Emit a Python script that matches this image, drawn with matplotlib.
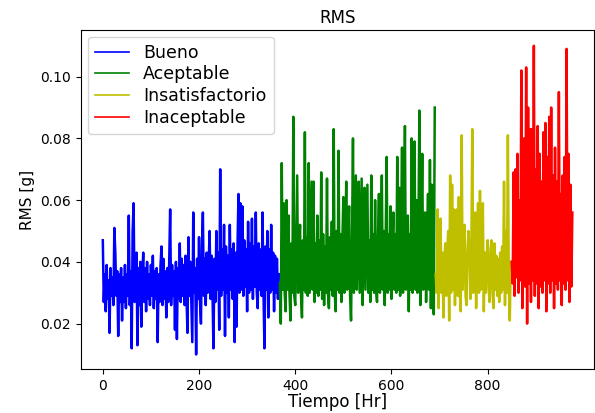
import numpy as np
import matplotlib
matplotlib.use('Agg')
import matplotlib.pyplot as plt
from matplotlib.lines import Line2D

# muestreo cada 2 horas
dt = 2

bueno = [
    0.047, 0.027, 0.036, 0.024, 0.039, 0.028, 0.034, 0.017, 0.038, 0.029,
    0.035, 0.026, 0.051, 0.043, 0.029, 0.037, 0.016, 0.036, 0.027, 0.038,
    0.021, 0.035, 0.027, 0.039, 0.025, 0.036, 0.029, 0.055, 0.026, 0.037,
    0.012, 0.050, 0.059, 0.027, 0.036, 0.043, 0.013, 0.038, 0.026, 0.040,
    0.019, 0.035, 0.043, 0.027, 0.038, 0.024, 0.040, 0.028, 0.036, 0.026,
    0.039, 0.029, 0.042, 0.025, 0.037, 0.028, 0.038, 0.014, 0.036, 0.027,
    0.039, 0.045, 0.026, 0.041, 0.028, 0.037, 0.022, 0.038, 0.027, 0.040,
    0.057, 0.026, 0.039, 0.029, 0.037, 0.018, 0.040, 0.015, 0.038, 0.028,
    0.046, 0.027, 0.041, 0.029, 0.039, 0.026, 0.042, 0.028, 0.017, 0.048,
    0.029, 0.040, 0.027, 0.014, 0.056, 0.030, 0.038, 0.010, 0.041, 0.028,
    0.048, 0.027, 0.020, 0.044, 0.056, 0.029, 0.041, 0.026, 0.043, 0.030,
    0.039, 0.050, 0.028, 0.042, 0.030, 0.012, 0.041, 0.027, 0.050, 0.031,
    0.043, 0.018, 0.070, 0.029, 0.044, 0.031, 0.052, 0.016, 0.045, 0.030,
    0.042, 0.022, 0.052, 0.031, 0.044, 0.028, 0.046, 0.014, 0.043, 0.019,
    0.045, 0.062, 0.030, 0.059, 0.031, 0.058, 0.029, 0.047, 0.032, 0.044,
    0.024, 0.053, 0.030, 0.046, 0.031, 0.054, 0.028, 0.045, 0.032, 0.056,
    0.030, 0.025, 0.046, 0.031, 0.044, 0.029, 0.056, 0.030, 0.012, 0.045,
    0.031, 0.050, 0.022, 0.044, 0.030, 0.052, 0.031, 0.043, 0.024, 0.042,
    0.030, 0.041, 0.028, 0.036,
]

aceptable = [
    0.033, 0.020, 0.072, 0.031, 0.059, 0.030, 0.024, 0.060, 0.031, 0.055,
    0.030, 0.021, 0.046, 0.030, 0.087, 0.029, 0.026, 0.047, 0.068, 0.030,
    0.045, 0.052, 0.029, 0.022, 0.047, 0.031, 0.082, 0.030, 0.048, 0.029,
    0.072, 0.030, 0.049, 0.066, 0.031, 0.066, 0.027, 0.046, 0.030, 0.055,
    0.029, 0.047, 0.031, 0.069, 0.028, 0.049, 0.026, 0.045, 0.030, 0.067,
    0.030, 0.025, 0.048, 0.031, 0.053, 0.029, 0.083, 0.030, 0.024, 0.050,
    0.031, 0.076, 0.030, 0.049, 0.027, 0.047, 0.061, 0.030, 0.046, 0.066,
    0.031, 0.048, 0.058, 0.029, 0.021, 0.047, 0.080, 0.030, 0.049, 0.068,
    0.031, 0.046, 0.066, 0.030, 0.048, 0.067, 0.026, 0.047, 0.064, 0.031,
    0.048, 0.065, 0.030, 0.047, 0.027, 0.068, 0.031, 0.049, 0.030, 0.060,
    0.031, 0.027, 0.048, 0.062, 0.030, 0.046, 0.068, 0.031, 0.050, 0.026,
    0.048, 0.074, 0.030, 0.049, 0.031, 0.058, 0.028, 0.047, 0.056, 0.031,
    0.049, 0.030, 0.074, 0.031, 0.064, 0.029, 0.050, 0.077, 0.030, 0.051,
    0.084, 0.031, 0.048, 0.055, 0.024, 0.049, 0.031, 0.080, 0.030, 0.050,
    0.079, 0.031, 0.060, 0.030, 0.049, 0.089, 0.026, 0.048, 0.075, 0.031,
    0.049, 0.056, 0.027, 0.047, 0.062, 0.031, 0.073, 0.025, 0.065, 0.032,
    0.023, 0.090,
]

insatisfactorio = [
    0.036, 0.030, 0.057, 0.025, 0.044, 0.054, 0.030, 0.043, 0.022, 0.041,
    0.046, 0.029, 0.044, 0.050, 0.021, 0.068, 0.030, 0.065, 0.031, 0.057,
    0.026, 0.045, 0.057, 0.029, 0.061, 0.030, 0.024, 0.081, 0.031, 0.044,
    0.052, 0.029, 0.026, 0.043, 0.050, 0.045, 0.028, 0.042, 0.083, 0.030,
    0.044, 0.056, 0.025, 0.045, 0.059, 0.030, 0.063, 0.031, 0.044, 0.059,
    0.024, 0.043, 0.030, 0.042, 0.047, 0.031, 0.027, 0.044, 0.047, 0.030,
    0.025, 0.046, 0.031, 0.042, 0.029, 0.041, 0.027, 0.043, 0.030, 0.045,
    0.031, 0.066, 0.026, 0.050, 0.030, 0.081, 0.032, 0.021, 0.040,
]

inaceptable = [
    0.040, 0.033, 0.069, 0.029, 0.070, 0.035, 0.075, 0.030, 0.060, 0.034,
    0.102, 0.025, 0.068, 0.080, 0.032, 0.103, 0.020, 0.090, 0.033, 0.083,
    0.027, 0.083, 0.034, 0.110, 0.029, 0.070, 0.033, 0.084, 0.025, 0.075,
    0.032, 0.066, 0.030, 0.082, 0.034, 0.085, 0.024, 0.074, 0.033, 0.087,
    0.030, 0.090, 0.034, 0.068, 0.025, 0.077, 0.033, 0.066, 0.031, 0.095,
    0.034, 0.062, 0.026, 0.068, 0.033, 0.074, 0.031, 0.109, 0.034, 0.075,
    0.027, 0.065, 0.032, 0.056,
]

series = [bueno, aceptable, insatisfactorio, inaceptable]
nombres = ['Bueno', 'Aceptable', 'Insatisfactorio', 'Inaceptable']
colores = ['b', 'g', 'y', 'r']

fig = plt.figure(figsize=(5.95, 4.13), dpi=100)
ax = fig.add_axes([0.1356, 0.1058, 0.8627, 0.8222])

inicio = 0
for vals, c in zip(series, colores):
    t = (inicio + np.arange(len(vals))) * dt
    ax.plot(t, vals, color=c, linewidth=1.8)
    inicio += len(vals)

ax.set_xlim(-46, 1021)
ax.set_ylim(0.0052, 0.1152)
ax.set_xticks([0, 200, 400, 600, 800])
ax.set_yticks([0.02, 0.04, 0.06, 0.08, 0.10])
ax.tick_params(labelsize=10)
ax.set_title('RMS', fontsize=12, pad=5)
ax.set_xlabel('Tiempo [Hr]', fontsize=12, labelpad=0)
ax.set_ylabel('RMS [g]', fontsize=11)

handles = [Line2D([], [], color=c, linewidth=1.2) for c in colores]
ax.legend(handles, nombres, loc='upper left', fontsize=12.5,
          labelspacing=0.22, borderaxespad=0.4)

fig.savefig('out.png', dpi=100)
